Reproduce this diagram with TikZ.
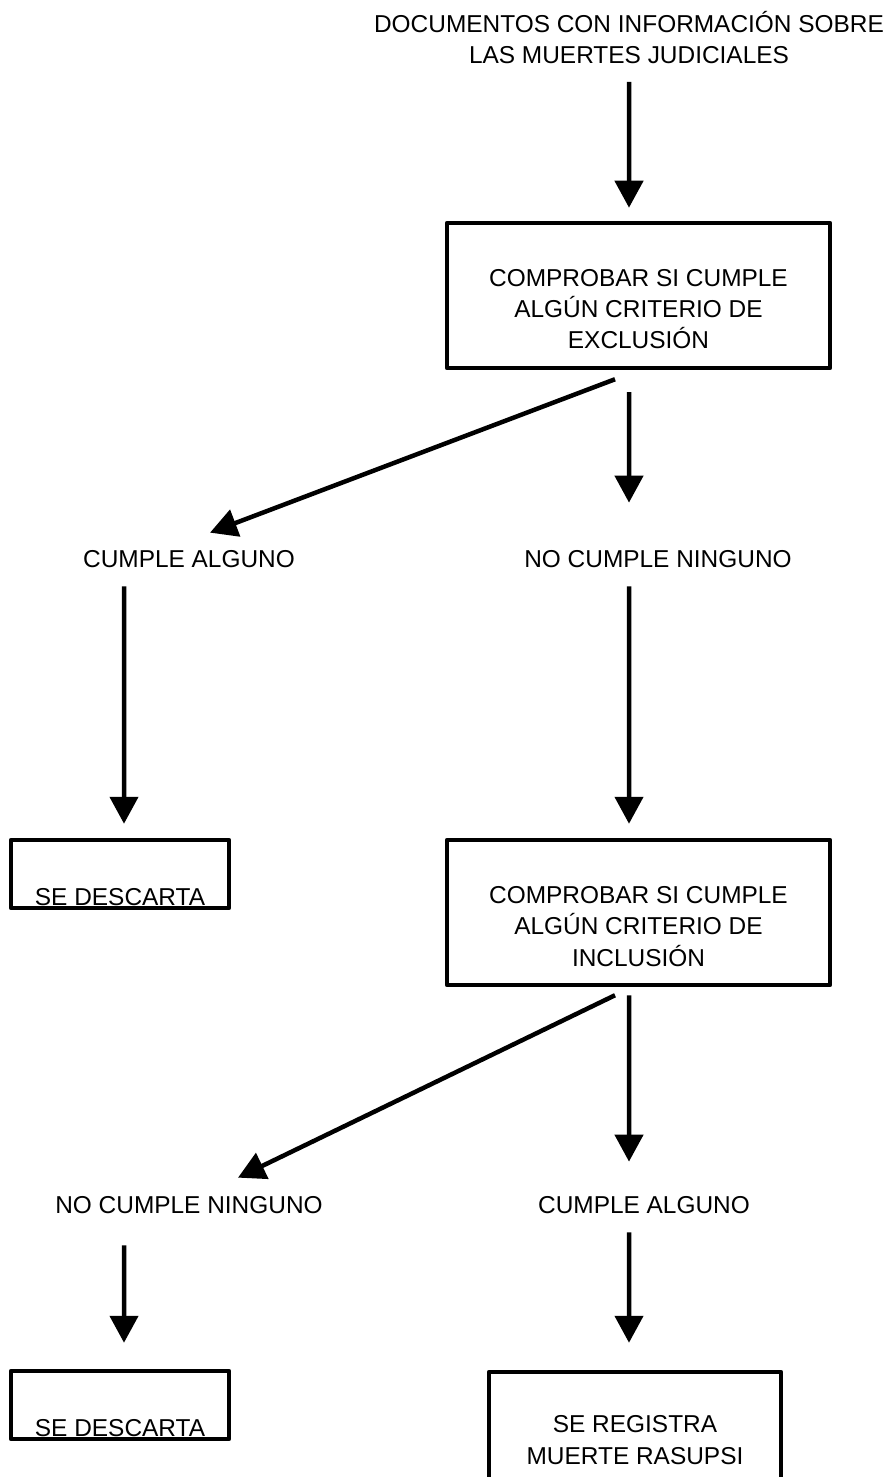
\documentclass[tikz,border=0pt]{standalone}
\usepackage{fontspec}
\setmainfont{Liberation Sans}
\usetikzlibrary{arrows.meta}

\begin{document}
\begin{tikzpicture}[>={Triangle[width=5.6mm,length=5.4mm]},
font=\fontsize{13.9pt}{17.9pt}\selectfont,
source/.style={
% free text at the top
align=center, inner sep=0pt, anchor=base},
criterion/.style={
% The shape:
rectangle, minimum width=76.6mm, minimum height=29mm,
% The border:
draw, line width=0.9mm, line join=round,
% The text, a bit below the middle
align=center, text height=21.4mm, text depth=0pt},
outcome/.style={
% plain text, no border
inner sep=0pt, text height=3.5mm, text depth=0pt, anchor=base},
discard/.style={
rectangle, minimum width=43.6mm, minimum height=13.6mm,
draw, line width=0.9mm, line join=round,
% text sits on the bottom line
inner sep=0pt, text height=12.4mm, text depth=0pt},
record/.style={
rectangle, minimum width=58.4mm, minimum height=28mm,
draw, line width=0.9mm, line join=round,
align=center, text height=8.8mm, text depth=0pt},
flow/.style={->, line width=0.9mm}]

\useasboundingbox (0,0) rectangle (17.68,-29.54);

\node (docs) [source] at (12.58,-1.28) {DOCUMENTOS CON INFORMACIÓN SOBRE\\LAS MUERTES JUDICIALES};
\node (excl) [criterion] at (12.77,-5.91) {COMPROBAR SI CUMPLE\\ALGÚN CRITERIO DE\\EXCLUSIÓN};
\node (ca1) [outcome] at (3.78,-11.34) {CUMPLE ALGUNO};
\node (nc1) [outcome] at (13.16,-11.34) {NO CUMPLE NINGUNO};
\node (desc1) [discard] at (2.40,-17.48) {SE DESCARTA};
\node (incl) [criterion] at (12.77,-18.25) {COMPROBAR SI CUMPLE\\ALGÚN CRITERIO DE\\INCLUSIÓN};
\node (nc2) [outcome] at (3.78,-24.26) {NO CUMPLE NINGUNO};
\node (ca2) [outcome] at (12.88,-24.26) {CUMPLE ALGUNO};
\node (desc2) [discard] at (2.40,-28.10) {SE DESCARTA};
\node (reg) [record] at (12.70,-28.84) {SE REGISTRA\\MUERTE RASUPSI};

\path ([yshift=-3.6mm]docs.base) edge[flow] ([xshift=-1.9mm,yshift=2.6mm]excl.north);
\path ([xshift=-1.9mm,yshift=-4.4mm]excl.south) edge[flow] ([xshift=-5.8mm,yshift=9.3mm]nc1.north);
\path ([xshift=-4.7mm,yshift=-1.8mm]excl.south) edge[flow] ([xshift=4.2mm,yshift=3.3mm]ca1.north);
\path ([xshift=-13mm,yshift=-3.8mm]ca1.south) edge[flow] ([xshift=0.8mm,yshift=2.8mm]desc1.north);
\path ([xshift=-5.8mm,yshift=-3.8mm]nc1.south) edge[flow] ([xshift=-1.9mm,yshift=2.8mm]incl.north);
\path ([xshift=-1.9mm,yshift=-1.6mm]incl.south) edge[flow] ([xshift=-3mm,yshift=6.7mm]ca2.north);
\path ([xshift=-4.7mm,yshift=-1.6mm]incl.south) edge[flow] ([xshift=9.8mm,yshift=3.5mm]nc2.north);
\path ([xshift=-13mm,yshift=-6.4mm]nc2.south) edge[flow] ([xshift=0.8mm,yshift=5.2mm]desc2.north);
\path ([xshift=-3mm,yshift=-3.8mm]ca2.south) edge[flow] ([xshift=-1.2mm,yshift=5.4mm]reg.north);
\end{tikzpicture}
\end{document}
